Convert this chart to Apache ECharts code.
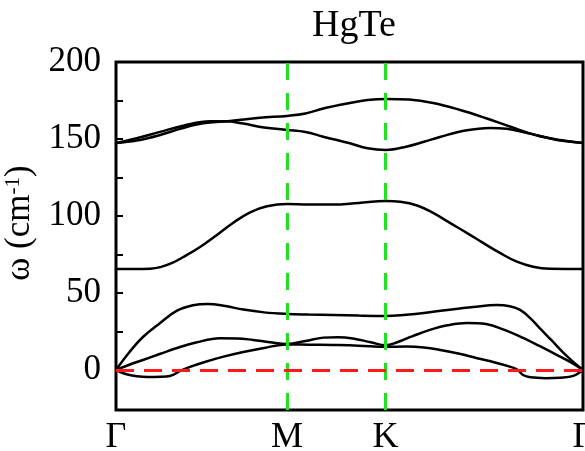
<!DOCTYPE html>
<html><head><meta charset="utf-8">
<script src="https://cdn.jsdelivr.net/npm/echarts@6/dist/echarts.min.js"></script>
<style>html,body{margin:0;padding:0;background:#fff}#c{width:585px;height:451px}</style>
</head><body><div id="c"></div>
<script>
// High-symmetry points (k-path distance) and their labels
const kPoints = [0, 0.5774, 0.9107, 1.5774];
const kLabels = ['Γ', 'M', 'K', 'Γ'];
const yTickLabels = [0, 50, 100, 150, 200];
const yTicks = [0, 25, 50, 75, 100, 125, 150, 175, 200];

// Phonon branches: [k, ω (cm^-1)]
const bandA = [[0,0],[0.02,-1.8],[0.05,-3.4],[0.09,-4.4],[0.13,-4.6],[0.17,-4.3],[0.195,-3.0],[0.215,-0.8],[0.25,2.0],[0.30,5.2],[0.36,8.5],[0.43,11.7],[0.50,14.3],[0.578,16.6],[0.65,16.4],[0.73,16.2],[0.82,15.8],[0.911,15.0],[0.98,15.2],[1.04,14.6],[1.10,12.8],[1.16,10.5],[1.22,7.6],[1.28,4.9],[1.33,2.2],[1.355,0.3],[1.375,-3.3],[1.40,-4.8],[1.45,-5.3],[1.50,-5.0],[1.545,-3.8],[1.577,0]];
const bandB = [[0,0],[0.045,3.4],[0.091,6.5],[0.15,10.5],[0.206,14.3],[0.27,17.8],[0.351,20.6],[0.41,20.5],[0.463,19.5],[0.52,18.0],[0.578,16.9],[0.64,18.8],[0.70,21.0],[0.75,21.3],[0.80,20.5],[0.86,18.0],[0.911,16.0],[0.95,18.0],[1.00,21.8],[1.06,26.0],[1.12,29.0],[1.186,30.5],[1.25,29.8],[1.31,26.2],[1.375,20.8],[1.43,15.6],[1.49,9.7],[1.54,4.6],[1.577,0]];
const bandC = [[0,0],[0.045,11.5],[0.091,21.4],[0.149,30.5],[0.206,38.5],[0.26,42.0],[0.31,42.9],[0.37,41.5],[0.43,39.2],[0.50,37.4],[0.578,36.4],[0.65,36.0],[0.733,35.7],[0.82,35.3],[0.911,35.1],[0.98,35.9],[1.04,37.0],[1.12,39.0],[1.206,40.9],[1.287,42.2],[1.33,41.4],[1.365,39.0],[1.40,33.5],[1.432,27.0],[1.47,19.5],[1.523,9.0],[1.577,0]];
const bandD = [[0,65.6],[0.06,65.6],[0.115,65.8],[0.15,66.8],[0.19,69.5],[0.226,73.2],[0.284,79.9],[0.341,87.7],[0.395,95.5],[0.453,102.4],[0.510,106.3],[0.578,107.8],[0.65,107.4],[0.733,107.4],[0.82,108.5],[0.911,109.7],[0.96,109.2],[1.017,106.8],[1.071,102.0],[1.128,95.5],[1.186,88.9],[1.240,82.5],[1.297,76.0],[1.354,70.3],[1.409,67.0],[1.466,65.7],[1.52,65.6],[1.577,65.6]];
const bandE = [[0,147.4],[0.07,149.0],[0.149,152.6],[0.22,156.8],[0.294,160.2],[0.385,161.7],[0.486,163.8],[0.578,165.0],[0.64,166.5],[0.70,169.8],[0.790,173.4],[0.85,175.3],[0.911,176.0],[0.99,175.6],[1.071,173.4],[1.16,169.0],[1.250,163.5],[1.335,157.8],[1.420,152.4],[1.500,149.3],[1.577,147.4]];
const bandF = [[0,147.4],[0.07,150.5],[0.149,154.6],[0.23,158.8],[0.318,161.5],[0.37,161.5],[0.43,160.0],[0.50,157.5],[0.578,155.9],[0.64,154.6],[0.70,151.5],[0.790,147.2],[0.85,144.0],[0.911,142.9],[0.98,145.0],[1.04,148.2],[1.094,151.3],[1.18,155.5],[1.263,157.2],[1.32,156.6],[1.375,154.6],[1.43,152.0],[1.490,149.4],[1.577,147.4]];

const serif = '"Liberation Serif", "Times New Roman", serif';
const bands = [bandA, bandB, bandC, bandD, bandE, bandF];

const chart = echarts.init(document.getElementById('c'));
const series = bands.map(b => ({
  type: 'line', data: b, showSymbol: false, smooth: 0.4,
  lineStyle: { color: '#000', width: 2.5 }, z: 2, silent: true
}));
series.push({
  type: 'line', data: [], z: 5, silent: true,
  markLine: {
    silent: true, symbol: ['none', 'none'], label: { show: false },
    lineStyle: { color: '#22e022', type: [17, 13], width: 3 },
    data: [{ xAxis: kPoints[1] }, { xAxis: kPoints[2] }]
  }
});
series.push({
  type: 'line', data: [], z: 5, silent: true,
  markLine: {
    silent: true, symbol: ['none', 'none'], label: { show: false },
    lineStyle: { color: '#ff1a1a', type: [18, 10], width: 3 },
    data: [{ yAxis: 0 }]
  }
});

chart.setOption({
  animation: false,
  title: {
    text: 'HgTe', left: 349, textAlign: 'center', top: 2,
    textStyle: { fontFamily: serif, fontSize: 38, fontWeight: 'normal', color: '#000' }
  },
  grid: { left: 116, right: 2, top: 62, bottom: 41, show: true, borderColor: '#000', borderWidth: 3, outerBoundsMode: 'none', containLabel: false },
  xAxis: {
    type: 'value', min: 0, max: kPoints[3],
    axisLine: { show: false }, splitLine: { show: false }, axisTick: { show: false },
    axisLabel: {
      customValues: kPoints,
      formatter: v => kLabels[kPoints.indexOf(v)],
      fontFamily: serif, fontSize: 36, color: '#000', margin: 10
    }
  },
  yAxis: {
    type: 'value', min: -26, max: 200,
    axisLine: { show: false }, splitLine: { show: false },
    axisTick: { show: true, inside: true, length: 7, customValues: yTicks, lineStyle: { color: '#000', width: 2 } },
    axisLabel: { customValues: yTickLabels, fontFamily: serif, fontSize: 35, color: '#000', margin: 15 },
    name: 'ω (cm{sup|-1})', nameLocation: 'middle', nameGap: 66, nameRotate: 90,
    nameTextStyle: {
      fontFamily: serif, fontSize: 35, color: '#000', padding: [0, 0, 0, 26],
      rich: { sup: { fontFamily: serif, fontSize: 21, color: '#000', verticalAlign: 'top', padding: [0, 0, 14, 0] } }
    }
  },
  series: series
});
</script>
</body></html>
